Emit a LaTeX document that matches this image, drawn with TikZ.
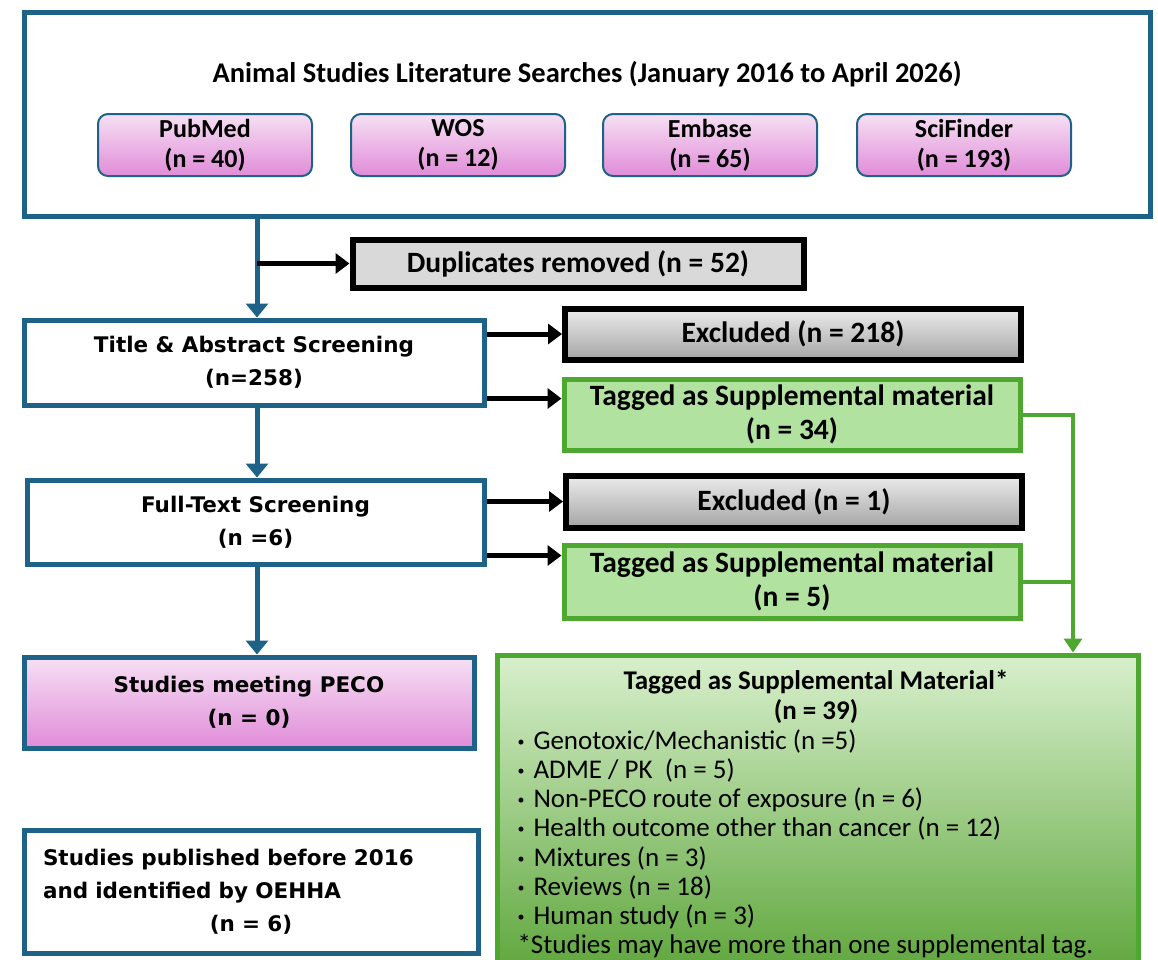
\documentclass[tikz,border=0pt]{standalone}
\usepackage{fontspec}
\setmainfont{Carlito}
\newfontfamily\boxfont{DejaVu Sans}
\usetikzlibrary{arrows.meta}

\definecolor{oblue}{RGB}{30,98,135}
\definecolor{pinktop}{RGB}{246,224,244}
\definecolor{pinkbot}{RGB}{224,140,216}
\definecolor{ggreen}{RGB}{78,167,46}
\definecolor{gfill}{RGB}{178,226,160}
\definecolor{gtop}{RGB}{216,240,205}
\definecolor{gbot}{RGB}{88,162,52}
\definecolor{dupgray}{RGB}{217,217,217}
\definecolor{extop}{RGB}{236,236,236}
\definecolor{exbot}{RGB}{165,165,165}

\newcommand{\suppbullet}{\raisebox{3pt}{\fontsize{14}{14}\selectfont\textbullet}\hspace{9pt}}

\tikzset{
  stepbox/.style={draw=oblue, line width=5pt, fill=white, align=center,
    font=\boxfont\bfseries\fontsize{21.5}{33}\selectfont},
  srcbox/.style={draw=oblue, line width=2pt, rounded corners=10pt,
    top color=pinktop, bottom color=pinkbot, minimum width=214pt,
    minimum height=62pt, align=center, font=\bfseries\fontsize{26}{30}\selectfont},
  exbox/.style={draw=black, line width=6pt, minimum width=456pt, align=center,
    font=\bfseries\fontsize{29.5}{34}\selectfont},
  tagbox/.style={draw=ggreen, line width=5pt, fill=gfill, minimum width=456pt,
    align=center, font=\bfseries\fontsize{29.5}{34}\selectfont},
  bluearrow/.style={draw=oblue, line width=5pt, -{Triangle[width=22pt,length=14pt]}},
  blackarrow/.style={draw=black, line width=5pt, -{Triangle[width=20pt,length=14pt]}},
  greenline/.style={draw=ggreen, line width=4pt},
  greenarrow/.style={greenline, -{Triangle[width=18pt,length=14pt]}}
}

\begin{document}
\begin{tikzpicture}[x=1pt,y=-1pt]
\useasboundingbox (0,0) rectangle (1158,959);
\fill[white] (0,0) rectangle (1158,959);
\clip (0,0) rectangle (1158,959);
% searches
\node[draw=oblue, line width=5pt, minimum width=1126pt, minimum height=204pt] (search) at (587,114) {};
\node[font=\bfseries\fontsize{28.5}{30}\selectfont] (srchtitle) at (587,74) {Animal Studies Literature Searches (January 2016 to April 2026)};
\node[srcbox] (pubmed) at (205,145) {PubMed\\(n = 40)};
\node[srcbox] (wos) at (458,145) {WOS\\(n = 12)};
\node[srcbox] (embase) at (710,145) {Embase\\(n = 65)};
\node[srcbox] (scifinder) at (964,145) {SciFinder\\(n = 193)};
% screening
\node[exbox, fill=dupgray, minimum width=451pt, minimum height=48pt] (dup) at (578,263.5) {Duplicates removed (n = 52)};
\node[stepbox, minimum width=460pt, minimum height=85pt] (ta) at (254,362.5) {Title \& Abstract Screening\\(n=258)};
\node[exbox, top color=extop, bottom color=exbot, minimum height=51pt] (ex1) at (793,334) {Excluded (n = 218)};
\node[tagbox, minimum height=71pt] (tag1) at (792,414.5) {Tagged as Supplemental material\\(n = 34)};
\node[stepbox, minimum width=457pt, minimum height=84pt] (ft) at (255.5,522) {Full-Text Screening\\(n =6)};
\node[exbox, top color=extop, bottom color=exbot, minimum height=52pt] (ex2) at (794,501.5) {Excluded (n = 1)};
\node[tagbox, minimum height=73pt] (tag2) at (792,581.5) {Tagged as Supplemental material\\(n = 5)};
% results
\node[stepbox, top color=pinktop, bottom color=pinkbot, minimum width=450pt, minimum height=91pt] (peco) at (249,702.5) {Studies meeting PECO\\(n = 0)};
\node[stepbox, minimum width=454pt, minimum height=123pt, text width=416pt, align=left] (oehha) at (251,891.5) {Studies published before 2016\\and identified by OEHHA\\\makebox[416pt]{(n = 6)}};
\node[draw=ggreen, line width=5pt, top color=gtop, bottom color=gbot, minimum width=641pt, minimum height=335pt] (supp) at (817.5,822.5) {};
\node[align=center, font=\bfseries\fontsize{27}{30}\selectfont] (supphead) at (816,697) {Tagged as Supplemental Material*\\(n = 39)};
\node[anchor=north west, align=left, font=\fontsize{27}{29.2}\selectfont] (supplist) at (514,726) {%
\suppbullet Genotoxic/Mechanistic (n =5)\\
\suppbullet ADME / PK\ \ (n = 5)\\
\suppbullet Non-PECO route of exposure\ (n = 6)\\
\suppbullet Health outcome other than cancer (n = 12)\\
\suppbullet Mixtures (n = 3)\\
\suppbullet Reviews\ (n = 18)\\
\suppbullet Human study (n = 3)\\
*Studies may have more than one supplemental tag.};
% connectors
\coordinate (trunk) at (257,0);
\coordinate (gbus) at (1073,0);
\coordinate (ta2) at ([yshift=9pt]ta.south east);
\coordinate (ft2) at ([yshift=11pt]ft.south east);
\draw[bluearrow] (trunk |- search.south) -- (trunk |- ta.north);
\draw[blackarrow] (trunk |- dup.west) -- (dup.west);
\draw[bluearrow] (trunk |- ta.south) -- (trunk |- ft.north);
\draw[bluearrow] (trunk |- ft.south) -- (trunk |- peco.north);
\draw[blackarrow] (ta.east |- ex1.west) -- (ex1.west);
\draw[blackarrow] (ta2) -- (ta2 -| tag1.west);
\draw[blackarrow] (ft.east |- ex2.west) -- (ex2.west);
\draw[blackarrow] (ft2) -- (ft2 -| tag2.west);
\draw[greenarrow] (tag1.east) -| (gbus |- supp.north);
\draw[greenline] (tag2.east) -- (tag2.east -| gbus);
\end{tikzpicture}
\end{document}
